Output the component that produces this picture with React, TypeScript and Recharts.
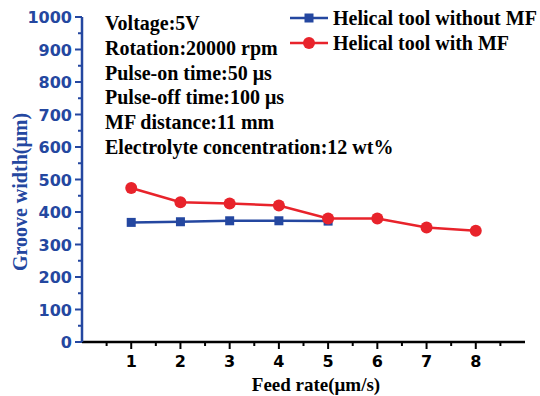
import React from 'react';
import { LineChart, Line, XAxis, YAxis } from 'recharts';

const feedRate = [1, 2, 3, 4, 5, 6, 7, 8];
const widthWithoutMF = [368, 370, 373, 373, 372];
const widthWithMF = [474, 430, 426, 420, 380, 380, 352, 342];

const xTicks = [0.5, 1, 1.5, 2, 2.5, 3, 3.5, 4, 4.5, 5, 5.5, 6, 6.5, 7, 7.5, 8, 8.5];
const yTicks = [0, 50, 100, 150, 200, 250, 300, 350, 400, 450, 500, 550, 600, 650, 700, 750, 800, 850, 900, 950, 1000];

const notes = [
  'Voltage:5V',
  'Rotation:20000 rpm',
  'Pulse-on time:50 μs',
  'Pulse-off time:100 μs',
  'MF distance:11 mm',
  'Electrolyte concentration:12 wt%',
];

const BLUE = '#2447a0';
const RED = '#e8232b';
const SERIF = '"Liberation Serif", "Times New Roman", serif';
const SANS = '"DejaVu Sans", Arial, sans-serif';

const data = feedRate.map((x, i) => ({
  x,
  without: widthWithoutMF[i] ?? null,
  with: widthWithMF[i],
}));

const XTick = (props: any) => {
  const { x, y, payload } = props;
  const major = Number.isInteger(payload.value);
  return (
    <g>
      <line x1={x} x2={x} y1={y} y2={y + (major ? 7 : 4)} stroke="#000" strokeWidth={2} />
      {major && (
        <text x={x} y={y + 25} textAnchor="middle" fontFamily={SANS} fontWeight="bold" fontSize={16} fill="#000">
          {payload.value}
        </text>
      )}
    </g>
  );
};

const YTick = (props: any) => {
  const { x, y, payload } = props;
  const major = payload.value % 100 === 0;
  return (
    <g>
      <line x1={x} x2={x - (major ? 7 : 4)} y1={y} y2={y} stroke={BLUE} strokeWidth={2} />
      {major && (
        <text x={x - 10} y={y + 6} textAnchor="end" fontFamily={SANS} fontWeight="bold" fontSize={16} fill={BLUE}>
          {payload.value}
        </text>
      )}
    </g>
  );
};

const square = (props: any) => {
  const { cx, cy, index } = props;
  if (cx == null || cy == null) return <g key={`s${index}`} />;
  return <rect key={`s${index}`} x={cx - 4.5} y={cy - 4.5} width={9} height={9} fill={BLUE} />;
};

const App: React.FC = () => {
  return (
    <div style={{ position: 'absolute', left: 0, top: 0, width: 540, height: 396, background: '#fff' }}>
      <LineChart width={540} height={396} data={data} margin={{ top: 17, right: 15, left: 0, bottom: 0 }}>
        <XAxis
          type="number"
          dataKey="x"
          domain={[0, 9]}
          ticks={xTicks}
          interval={0}
          tick={<XTick />}
          tickLine={false}
          tickSize={0}
          tickMargin={0}
          height={54}
          axisLine={{ stroke: '#000', strokeWidth: 2.5 }}
        />
        <YAxis
          type="number"
          domain={[0, 1000]}
          ticks={yTicks}
          interval={0}
          tick={<YTick />}
          tickLine={false}
          tickSize={0}
          tickMargin={0}
          width={82}
          axisLine={{ stroke: BLUE, strokeWidth: 2.5 }}
        />
        <Line
          dataKey="without"
          stroke={BLUE}
          strokeWidth={2.5}
          dot={square}
          activeDot={false}
          isAnimationActive={false}
        />
        <Line
          dataKey="with"
          stroke={RED}
          strokeWidth={2.5}
          dot={{ r: 6, fill: RED, stroke: 'none' }}
          activeDot={false}
          isAnimationActive={false}
        />
      </LineChart>
      <svg width={540} height={396} style={{ position: 'absolute', left: 0, top: 0, pointerEvents: 'none' }}>
        {notes.map((n, i) => (
          <text key={n} x={105} y={30 + i * 24.8} fontFamily={SERIF} fontWeight="bold" fontSize={20} fill="#000">
            {n}
          </text>
        ))}
        {/* legend */}
        <line x1={290} x2={328} y1={18} y2={18} stroke={BLUE} strokeWidth={2.5} />
        <rect x={304.5} y={13.5} width={9} height={9} fill={BLUE} />
        <text x={333} y={25} fontFamily={SERIF} fontWeight="bold" fontSize={20} fill="#000">Helical tool without MF</text>
        <line x1={290} x2={328} y1={43} y2={43} stroke={RED} strokeWidth={2.5} />
        <circle cx={309} cy={43} r={6} fill={RED} />
        <text x={333} y={50} fontFamily={SERIF} fontWeight="bold" fontSize={20} fill="#000">Helical tool with MF</text>
        {/* axis titles */}
        <text x={27} y={192} transform="rotate(-90 27 192)" textAnchor="middle" fontFamily={SERIF} fontWeight="bold" fontSize={20} fill={BLUE}>
          Groove width(μm)
        </text>
        <text x={316} y={391} textAnchor="middle" fontFamily={SERIF} fontWeight="bold" fontSize={19} fill="#000">
          Feed rate(μm/s)
        </text>
      </svg>
    </div>
  );
};

export default App;
